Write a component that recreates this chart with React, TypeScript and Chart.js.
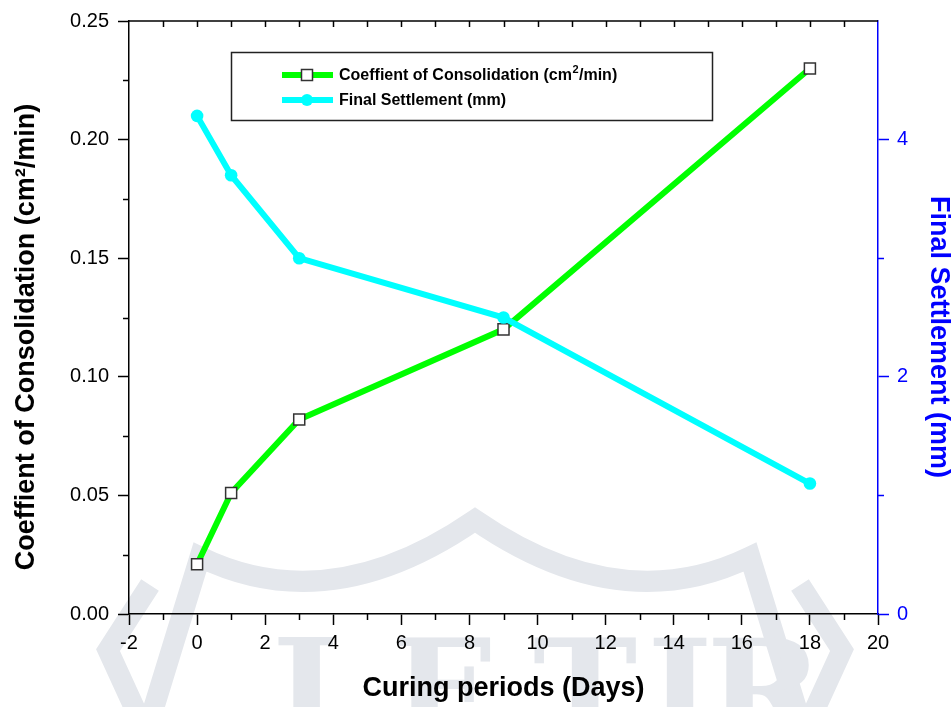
import React, { useEffect, useRef } from 'react';
import { Chart, registerables } from 'chart.js';

Chart.register(...registerables);

// ---- data ----
const days = [0, 1, 3, 9, 18];
const coefficient = [0.021, 0.051, 0.082, 0.12, 0.23];
const settlement = [4.2, 3.7, 3.0, 2.5, 1.1];

const seriesNames = ['Coeffient of Consolidation (cm', 'Final Settlement (mm)'];
const xTitle = 'Curing periods (Days)';
const yTitle = 'Coeffient of Consolidation (cm\u00B2/min)';
const y1Title = 'Final Settlement (mm)';
const watermarkLetters = ['J', 'E', 'T', 'I', 'R'];
const watermarkCenters = [305, 445, 585, 680, 765];

const W = 952;
const H = 707;
const SANS = "'Liberation Sans', Arial, sans-serif";
const GREEN = '#00ff00';
const CYAN = '#00ffff';
const BLUE = '#0000ff';
const WM = '#e4e7ec';

const isMajorX = (v: number) => Math.abs(v % 2) < 1e-9;
const isMajorY = (v: number) => Math.abs(v / 0.05 - Math.round(v / 0.05)) < 1e-6;
const isMajorY1 = (v: number) => Math.abs(v % 2) < 1e-9;

const watermarkPlugin = {
  id: 'watermark',
  beforeDraw(chart: any) {
    const ctx = chart.ctx;
    ctx.save();
    ctx.strokeStyle = WM;
    ctx.lineWidth = 21;
    ctx.lineJoin = 'miter';
    ctx.beginPath();
    ctx.moveTo(150, 720);
    ctx.lineTo(200, 557);
    ctx.quadraticCurveTo(330, 620, 475, 520);
    ctx.quadraticCurveTo(620, 620, 750, 557);
    ctx.lineTo(800, 720);
    ctx.stroke();
    ctx.beginPath();
    ctx.moveTo(150, 585);
    ctx.lineTo(108, 650);
    ctx.lineTo(140, 720);
    ctx.stroke();
    ctx.beginPath();
    ctx.moveTo(800, 585);
    ctx.lineTo(842, 650);
    ctx.lineTo(810, 720);
    ctx.stroke();
    ctx.fillStyle = WM;
    ctx.font = "bold 140px 'DejaVu Serif', serif";
    ctx.textAlign = 'center';
    ctx.textBaseline = 'alphabetic';
    watermarkLetters.forEach((ch, i) => ctx.fillText(ch, watermarkCenters[i], 740));
    ctx.restore();
  },
};

const decorPlugin = {
  id: 'decor',
  afterDraw(chart: any) {
    const ctx = chart.ctx;
    const { left, right, top, bottom } = chart.chartArea;
    const xs = chart.scales.x;
    const ys = chart.scales.y;
    const y1s = chart.scales.y1;
    ctx.save();
    ctx.lineWidth = 1.5;
    // top axis line with inward ticks
    ctx.strokeStyle = '#000';
    ctx.beginPath();
    ctx.moveTo(left, top);
    ctx.lineTo(right, top);
    ctx.stroke();
    xs.ticks.forEach((t: any) => {
      const px = Math.round(xs.getPixelForValue(t.value)) + 0.5;
      if (t.value === xs.min || t.value === xs.max) return;
      ctx.beginPath();
      ctx.moveTo(px, top);
      ctx.lineTo(px, top + 6);
      ctx.stroke();
    });
    // minor ticks bottom
    xs.ticks.forEach((t: any) => {
      if (isMajorX(t.value)) return;
      const px = Math.round(xs.getPixelForValue(t.value)) + 0.5;
      ctx.beginPath();
      ctx.moveTo(px, bottom);
      ctx.lineTo(px, bottom + 6);
      ctx.stroke();
    });
    // minor ticks left
    ys.ticks.forEach((t: any) => {
      if (isMajorY(t.value)) return;
      const py = Math.round(ys.getPixelForValue(t.value)) + 0.5;
      ctx.beginPath();
      ctx.moveTo(left, py);
      ctx.lineTo(left - 6, py);
      ctx.stroke();
    });
    // minor ticks right
    ctx.strokeStyle = BLUE;
    y1s.ticks.forEach((t: any) => {
      if (isMajorY1(t.value) || t.value === y1s.max) return;
      const py = Math.round(y1s.getPixelForValue(t.value)) + 0.5;
      ctx.beginPath();
      ctx.moveTo(right, py);
      ctx.lineTo(right + 6, py);
      ctx.stroke();
    });

    // vertical axis titles
    ctx.font = `bold 27px ${SANS}`;
    ctx.textAlign = 'center';
    ctx.textBaseline = 'middle';
    ctx.fillStyle = '#000';
    ctx.save();
    ctx.translate(27, 337);
    ctx.rotate(-Math.PI / 2);
    ctx.fillText(yTitle, 0, 0);
    ctx.restore();
    ctx.fillStyle = BLUE;
    ctx.save();
    ctx.translate(938, 337);
    ctx.rotate(Math.PI / 2);
    ctx.fillText(y1Title, 0, 0);
    ctx.restore();

    // legend box
    const bx = 231.5, by = 52.5, bw = 481, bh = 68;
    ctx.fillStyle = '#ffffff';
    ctx.fillRect(bx, by, bw, bh);
    ctx.strokeStyle = '#222';
    ctx.lineWidth = 1.5;
    ctx.strokeRect(bx, by, bw, bh);
    const lx0 = 282, lx1 = 333, mx = 307;
    const r1 = 75, r2 = 100;
    // row 1
    ctx.strokeStyle = GREEN;
    ctx.lineWidth = 6;
    ctx.beginPath();
    ctx.moveTo(lx0, r1);
    ctx.lineTo(lx1, r1);
    ctx.stroke();
    ctx.fillStyle = '#fff';
    ctx.fillRect(mx - 5.5, r1 - 5.5, 11, 11);
    ctx.strokeStyle = '#333';
    ctx.lineWidth = 1.5;
    ctx.strokeRect(mx - 5.5, r1 - 5.5, 11, 11);
    // row 2
    ctx.strokeStyle = CYAN;
    ctx.lineWidth = 6;
    ctx.beginPath();
    ctx.moveTo(lx0, r2);
    ctx.lineTo(lx1, r2);
    ctx.stroke();
    ctx.fillStyle = CYAN;
    ctx.beginPath();
    ctx.arc(mx, r2, 6, 0, Math.PI * 2);
    ctx.fill();
    // texts
    ctx.fillStyle = '#000';
    ctx.textBaseline = 'middle';
    ctx.textAlign = 'left';
    ctx.font = `bold 16px ${SANS}`;
    const tx = 339;
    ctx.fillText(seriesNames[0], tx, r1 + 1);
    const w = ctx.measureText(seriesNames[0]).width;
    ctx.font = `bold 11px ${SANS}`;
    ctx.fillText('2', tx + w + 0.5, r1 - 5);
    const w2 = ctx.measureText('2').width;
    ctx.font = `bold 16px ${SANS}`;
    ctx.fillText('/min)', tx + w + w2 + 1, r1 + 1);
    ctx.fillText(seriesNames[1], tx, r2 + 1);
    ctx.restore();
  },
};

export default function App() {
  const ref = useRef<HTMLCanvasElement | null>(null);
  useEffect(() => {
    document.body.style.margin = '0';
    const canvas = ref.current;
    if (!canvas) return;
    const chart = new Chart(canvas, {
      type: 'line',
      data: {
        datasets: [
          {
            label: 'Coefficient',
            data: days.map((d, i) => ({ x: d, y: coefficient[i] })),
            yAxisID: 'y',
            borderColor: GREEN,
            backgroundColor: '#ffffff',
            borderWidth: 6,
            pointStyle: 'rect',
            pointRadius: 7.8,
            pointBackgroundColor: '#ffffff',
            pointBorderColor: '#333333',
            pointBorderWidth: 1.5,
            tension: 0,
            order: 2,
          },
          {
            label: 'Settlement',
            data: days.map((d, i) => ({ x: d, y: settlement[i] })),
            yAxisID: 'y1',
            borderColor: CYAN,
            backgroundColor: CYAN,
            borderWidth: 6,
            pointStyle: 'circle',
            pointRadius: 6.3,
            pointBackgroundColor: CYAN,
            pointBorderColor: CYAN,
            pointBorderWidth: 0,
            tension: 0,
            order: 1,
          },
        ],
      },
      options: {
        responsive: false,
        animation: false,
        devicePixelRatio: 1,
        layout: { padding: { top: 19, left: 0, right: 0, bottom: 0 } },
        plugins: { legend: { display: false }, tooltip: { enabled: false } },
        scales: {
          x: {
            type: 'linear',
            position: 'bottom',
            min: -2,
            max: 20,
            afterFit: (s: any) => { s.height = 93; },
            ticks: {
              stepSize: 1,
              autoSkip: false,
              maxRotation: 0,
              color: '#000',
              padding: 6,
              font: { family: SANS, size: 20 },
              callback: (v: any) => (isMajorX(Number(v)) ? String(v) : ''),
            },
            grid: {
              drawOnChartArea: false,
              drawTicks: true,
              tickLength: 11,
              tickWidth: 1.5,
              tickColor: (c: any) => (c.tick && isMajorX(c.tick.value) ? '#000' : 'rgba(0,0,0,0)'),
            },
            border: { display: true, color: '#000', width: 1.5 },
            title: {
              display: true,
              text: xTitle,
              color: '#000',
              font: { family: SANS, size: 27, weight: 'bold' },
              padding: { top: 0, bottom: 2 },
            },
          },
          y: {
            type: 'linear',
            position: 'left',
            min: 0,
            max: 0.25,
            afterFit: (s: any) => { s.width = 129; },
            ticks: {
              stepSize: 0.025,
              autoSkip: false,
              color: '#000',
              padding: 9,
              font: { family: SANS, size: 20 },
              callback: (v: any) => (isMajorY(Number(v)) ? Number(v).toFixed(2) : ''),
            },
            grid: {
              drawOnChartArea: false,
              drawTicks: true,
              tickLength: 11,
              tickWidth: 1.5,
              tickColor: (c: any) => (c.tick && isMajorY(c.tick.value) ? '#000' : 'rgba(0,0,0,0)'),
            },
            border: { display: true, color: '#000', width: 1.5 },
            title: { display: false, text: yTitle },
          },
          y1: {
            type: 'linear',
            position: 'right',
            min: 0,
            max: 5,
            afterFit: (s: any) => { s.width = 74; },
            ticks: {
              stepSize: 1,
              autoSkip: false,
              color: BLUE,
              padding: 8,
              font: { family: SANS, size: 20 },
              callback: (v: any) => (isMajorY1(Number(v)) ? String(v) : ''),
            },
            grid: {
              drawOnChartArea: false,
              drawTicks: true,
              tickLength: 11,
              tickWidth: 1.5,
              tickColor: (c: any) => (c.tick && isMajorY1(c.tick.value) ? BLUE : 'rgba(0,0,0,0)'),
            },
            border: { display: true, color: BLUE, width: 1.5 },
            title: { display: false, text: y1Title },
          },
        },
      },
      plugins: [watermarkPlugin, decorPlugin],
    } as any);
    return () => chart.destroy();
  }, []);
  return (
    <div style={{ position: 'fixed', left: 0, top: 0, width: W, height: H, background: '#fff' }}>
      <canvas ref={ref} width={W} height={H} style={{ width: W, height: H, display: 'block' }} />
    </div>
  );
}
